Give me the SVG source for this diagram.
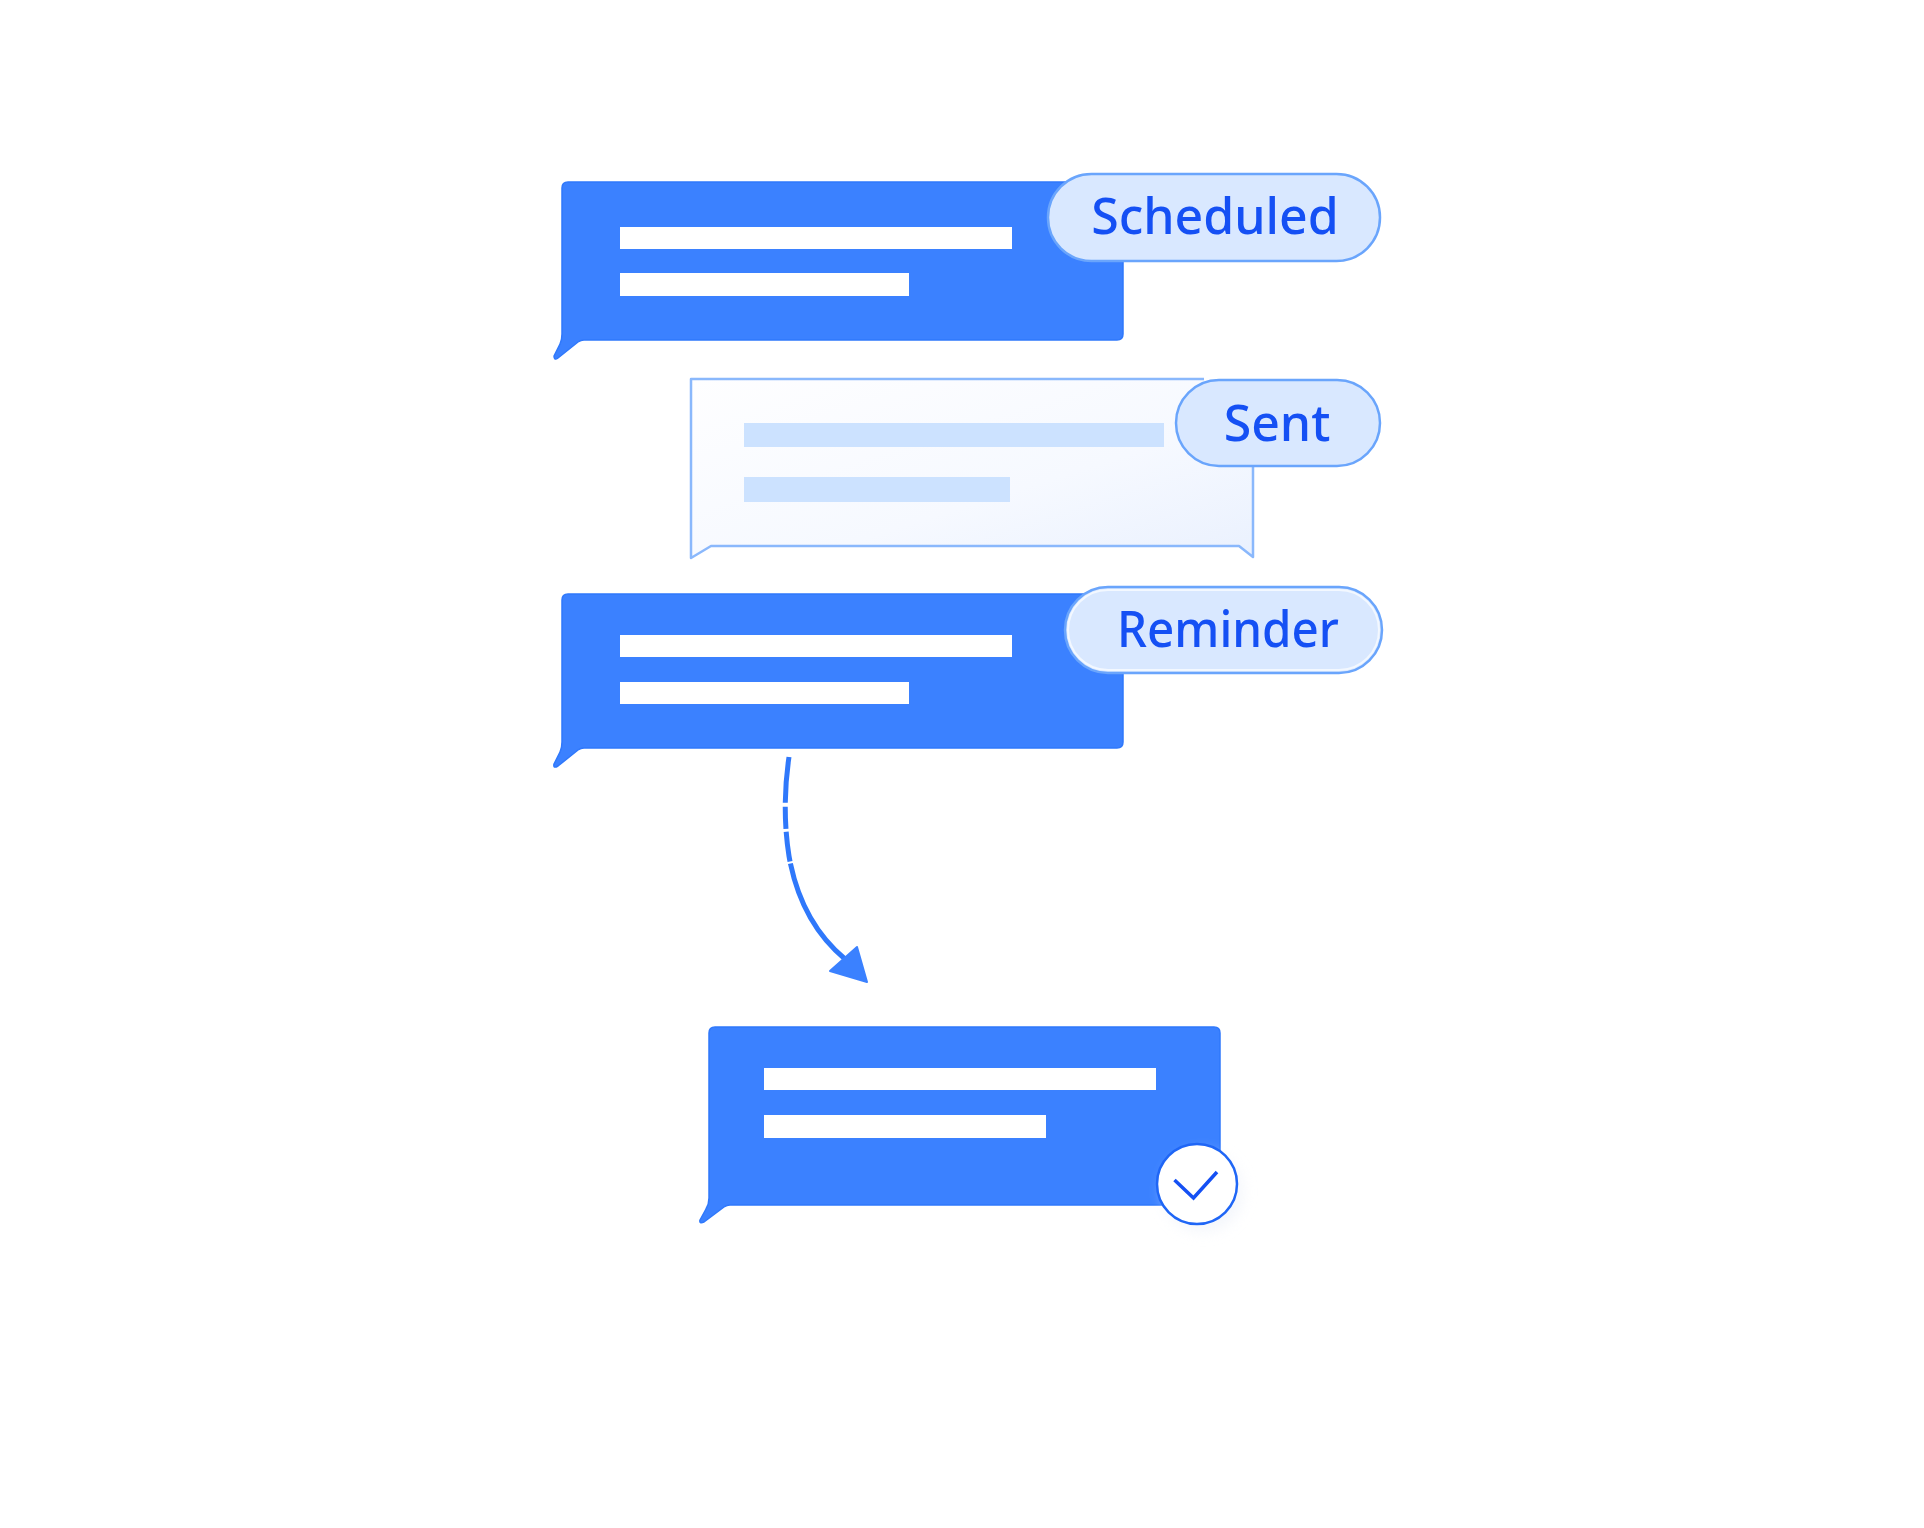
<svg xmlns="http://www.w3.org/2000/svg" width="1924" height="1528" viewBox="0 0 1924 1528">
<defs>
<linearGradient id="paleFill" x1="0" y1="0" x2="1" y2="1"><stop offset="0" stop-color="#FEFEFF"/><stop offset="0.6" stop-color="#F6F9FF"/><stop offset="1" stop-color="#EAF1FE"/></linearGradient>
<filter id="soft" x="-30%" y="-30%" width="170%" height="170%"><feGaussianBlur stdDeviation="7"/></filter>
</defs>
<style>
.bubble{fill:#3B81FF;stroke:#2F78FB;stroke-width:1.5;stroke-linejoin:round}
.line{fill:#FFFFFF}
.paleline{fill:#CCE2FF}
.pill{fill:#D9E8FF;stroke:#6AA5FC;stroke-width:2.5}
.label{font-family:"Noto Sans","Liberation Sans",sans-serif;font-size:50px;font-weight:500;fill:#1550F4;text-anchor:middle}
</style>
<rect width="1924" height="1528" fill="#FFFFFF"/>
<g id="connectors">
<path d="M789 757C784 790 784 825 789 856C796 897 815 934 845 959" fill="none" stroke="#2F78FB" stroke-width="5" stroke-dasharray="46 4 22 3 30 2 200"/>
<path d="M857 947L867 982L830 971Z" fill="#3B81FF" stroke="#3B81FF" stroke-width="2" stroke-linejoin="round"/>
</g>
<g id="node-scheduled">
<path class="bubble" d="M568 182H1117Q1123 182 1123 188V334Q1123 340 1117 340H584Q581 340 578 342L558 358Q554 361 554 356L560 344Q562 340 562 334V188Q562 182 568 182Z"/>
<rect class="line" x="620" y="227" width="392" height="22"/>
<rect class="line" x="620" y="273" width="289" height="23"/>
<rect class="pill" x="1048" y="174" width="332" height="87" rx="43.5"/>
<text class="label" x="1215" y="234">Scheduled</text>
</g>
<g id="node-sent">
<path d="M691 379H1204L1253 466V557L1239 546H711L691 558Z" fill="url(#paleFill)"/>
<path d="M1204 379H691V558L711 546H1239L1253 557V466" fill="none" stroke="#8AB8FC" stroke-width="2.5" stroke-linejoin="round"/>
<rect class="paleline" x="744" y="423" width="420" height="24"/>
<rect class="paleline" x="744" y="477" width="266" height="25"/>
<rect class="pill" x="1176" y="380" width="204" height="86" rx="43"/>
<text class="label" x="1277" y="441">Sent</text>
</g>
<g id="node-reminder">
<path class="bubble" d="M568 594H1117Q1123 594 1123 600V742Q1123 748 1117 748H584Q581 748 578 750L558 766Q553 769 554 764L560 752Q562 748 562 742V600Q562 594 568 594Z"/>
<rect class="line" x="620" y="635" width="392" height="22"/>
<rect class="line" x="620" y="682" width="289" height="22"/>
<rect class="pill" x="1065" y="587" width="317" height="86" rx="43"/>
<rect x="1068" y="590" width="311" height="80" rx="40" fill="none" stroke="#F3F8FF" stroke-width="2"/>
<text class="label" x="1228" y="647" textLength="222" lengthAdjust="spacingAndGlyphs">Reminder</text>
</g>
<g id="node-delivered">
<path class="bubble" d="M715 1027H1214Q1220 1027 1220 1033V1205H730Q727 1205 724 1207L704 1222Q699 1224 700 1220L706 1209Q709 1204 709 1198V1033Q709 1027 715 1027Z"/>
<rect class="line" x="764" y="1068" width="392" height="22"/>
<rect class="line" x="764" y="1115" width="282" height="23"/>
<circle cx="1203" cy="1192" r="40" fill="#E9EEF8" opacity="0.5" filter="url(#soft)"/>
<circle cx="1197" cy="1184" r="40" fill="#FFFFFF" stroke="#1F66F6" stroke-width="2.5"/>
<path d="M1174.5 1180L1193.5 1198L1217 1172" fill="none" stroke="#1550F4" stroke-width="3.5"/>
</g>
</svg>
